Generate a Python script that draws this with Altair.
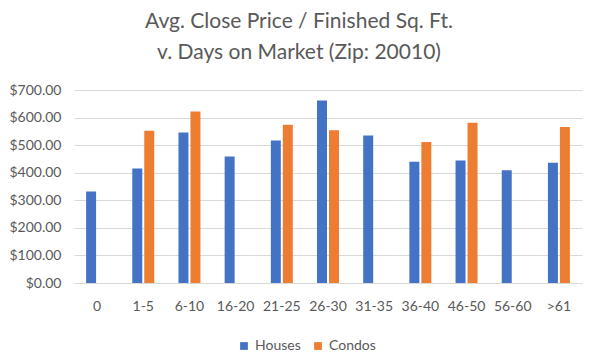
import altair as alt
import pandas as pd

categories = ["0", "1-5", "6-10", "16-20", "21-25", "26-30", "31-35", "36-40", "46-50", "56-60", ">61"]
houses = [332, 415, 546, 459, 517, 662, 535, 440, 444, 409, 436]
condos = [None, 552, 622, None, 574, 554, None, 511, 581, None, 566]
series = ["Houses", "Condos"]
colors = ["#4472C4", "#ED7D31"]

rows = []
for c, h, k in zip(categories, houses, condos):
    if h is not None:
        rows.append({"cat": c, "series": "Houses", "value": h})
    if k is not None:
        rows.append({"cat": c, "series": "Condos", "value": k})
df = pd.DataFrame(rows)

FONT = "Lato"
GRAY = "#595959"

chart = alt.Chart(df).mark_bar().encode(
    x=alt.X("cat:N", sort=categories, title=None,
            scale=alt.Scale(paddingInner=0.524, paddingOuter=0.262),
            axis=alt.Axis(labelAngle=0, labelFont=FONT, labelFontSize=14, labelColor=GRAY,
                          ticks=False, domainColor="#d9d9d9", labelPadding=16)),
    xOffset=alt.XOffset("series:N", sort=series,
                        scale=alt.Scale(paddingInner=0.1667, paddingOuter=0)),
    y=alt.Y("value:Q", title=None,
            scale=alt.Scale(domain=[0, 700]),
            axis=alt.Axis(values=[0, 100, 200, 300, 400, 500, 600, 700], format="$,.2f",
                          labelFont=FONT, labelFontSize=14, labelColor=GRAY,
                          ticks=False, domain=False, gridColor="#d9d9d9", labelPadding=13)),
    color=alt.Color("series:N", sort=series,
                    scale=alt.Scale(domain=series, range=colors),
                    legend=alt.Legend(title=None, orient="none", direction="horizontal",
                                      legendX=163, legendY=249, symbolType="square",
                                      symbolSize=60, labelFont=FONT, labelFontSize=14,
                                      labelColor=GRAY, columnPadding=10, labelOffset=4)),
).properties(
    width=508, height=193,
    title=alt.TitleParams(["Avg. Close Price / Finished Sq. Ft.", "v. Days on Market (Zip: 20010)"],
                          font=FONT, fontSize=21, fontWeight="normal", color=GRAY,
                          lineHeight=31, anchor="middle", dx=-29, offset=20),
    autosize=alt.AutoSizeParams(type="none"),
    padding={"left": 66, "top": 82, "right": 10, "bottom": 69},
).configure_view(stroke=None)

chart.save("out.html", embed_options={"renderer": "svg", "actions": False})
